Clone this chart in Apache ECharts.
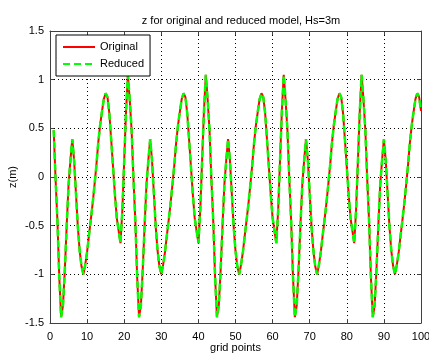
<!DOCTYPE html>
<html>
<head>
<meta charset="utf-8">
<script src="https://cdn.jsdelivr.net/npm/echarts@6/dist/echarts.min.js"></script>
<style>
html,body{margin:0;padding:0;background:#fff;}
#c{width:429px;height:353px;}
</style>
</head>
<body>
<div id="c"></div>
<script>
// grid point positions: first point and spacing of the samples
const gridStart = 1;
const gridStep = 0.5;

// z(m) for the original model
const original = [
0.48,-0.02,-0.45,-1.03,-1.44,-1.32,-0.95,-0.5,-0.08,0.17,0.39,0.17,-0.17,-0.51,-0.76,-0.92,-1.0,-0.9,-0.77,-0.6,-0.44,-0.27,-0.08,0.12,0.35,0.53,0.67,0.8,0.86,0.82,0.65,0.38,0.1,-0.18,-0.42,-0.55,-0.68,-0.34,0.17,0.68,1.05,0.79,
0.48,-0.02,-0.45,-1.03,-1.44,-1.32,-0.95,-0.5,-0.08,0.17,0.39,0.17,-0.17,-0.51,-0.76,-0.92,-1.0,-0.9,-0.77,-0.6,-0.44,-0.27,-0.08,0.12,0.35,0.53,0.67,0.8,0.86,0.82,0.65,0.38,0.1,-0.18,-0.42,-0.55,-0.68,-0.34,0.17,0.68,1.05,0.79,
0.48,-0.02,-0.45,-1.03,-1.44,-1.32,-0.95,-0.5,-0.08,0.17,0.39,0.17,-0.17,-0.51,-0.76,-0.92,-1.0,-0.9,-0.77,-0.6,-0.44,-0.27,-0.08,0.12,0.35,0.53,0.67,0.8,0.86,0.82,0.65,0.38,0.1,-0.18,-0.42,-0.55,-0.68,-0.34,0.17,0.68,1.05,0.79,
0.48,-0.02,-0.45,-1.03,-1.44,-1.32,-0.95,-0.5,-0.08,0.17,0.39,0.17,-0.17,-0.51,-0.76,-0.92,-1.0,-0.9,-0.77,-0.6,-0.44,-0.27,-0.08,0.12,0.35,0.53,0.67,0.8,0.86,0.82,0.65,0.38,0.1,-0.18,-0.42,-0.55,-0.68,-0.34,0.17,0.68,1.05,0.79,
0.48,-0.02,-0.45,-1.03,-1.44,-1.32,-0.95,-0.5,-0.08,0.17,0.39,0.17,-0.17,-0.51,-0.76,-0.92,-1.0,-0.9,-0.77,-0.6,-0.44,-0.27,-0.08,0.12,0.35,0.53,0.67,0.8,0.86,0.82,0.68
];

// z(m) for the reduced model (overlaps the original)
const reduced = [
0.48,-0.02,-0.45,-1.03,-1.44,-1.32,-0.95,-0.5,-0.08,0.17,0.39,0.17,-0.17,-0.51,-0.76,-0.92,-1.0,-0.9,-0.77,-0.6,-0.44,-0.27,-0.08,0.12,0.35,0.53,0.67,0.8,0.86,0.82,0.65,0.38,0.1,-0.18,-0.42,-0.55,-0.68,-0.34,0.17,0.68,1.05,0.79,
0.48,-0.02,-0.45,-1.03,-1.44,-1.32,-0.95,-0.5,-0.08,0.17,0.39,0.17,-0.17,-0.51,-0.76,-0.92,-1.0,-0.9,-0.77,-0.6,-0.44,-0.27,-0.08,0.12,0.35,0.53,0.67,0.8,0.86,0.82,0.65,0.38,0.1,-0.18,-0.42,-0.55,-0.68,-0.34,0.17,0.68,1.05,0.79,
0.48,-0.02,-0.45,-1.03,-1.44,-1.32,-0.95,-0.5,-0.08,0.17,0.39,0.17,-0.17,-0.51,-0.76,-0.92,-1.0,-0.9,-0.77,-0.6,-0.44,-0.27,-0.08,0.12,0.35,0.53,0.67,0.8,0.86,0.82,0.65,0.38,0.1,-0.18,-0.42,-0.55,-0.68,-0.34,0.17,0.68,1.05,0.79,
0.48,-0.02,-0.45,-1.03,-1.44,-1.32,-0.95,-0.5,-0.08,0.17,0.39,0.17,-0.17,-0.51,-0.76,-0.92,-1.0,-0.9,-0.77,-0.6,-0.44,-0.27,-0.08,0.12,0.35,0.53,0.67,0.8,0.86,0.82,0.65,0.38,0.1,-0.18,-0.42,-0.55,-0.68,-0.34,0.17,0.68,1.05,0.79,
0.48,-0.02,-0.45,-1.03,-1.44,-1.32,-0.95,-0.5,-0.08,0.17,0.39,0.17,-0.17,-0.51,-0.76,-0.92,-1.0,-0.9,-0.77,-0.6,-0.44,-0.27,-0.08,0.12,0.35,0.53,0.67,0.8,0.86,0.82,0.68
];

// tick labels
const xTicks = [0,10,20,30,40,50,60,70,80,90,100];
const yTicks = [-1.5,-1,-0.5,0,0.5,1,1.5];

const seriesNames = ['Original','Reduced'];
const titleText = 'z for original and reduced model, Hs=3m';
const xName = 'grid points';
const yName = 'z(m)';

function pairs(vals){ return vals.map((v,i)=>[gridStart + i*gridStep, v]); }

const FONT = '"Liberation Sans", Arial, sans-serif';
const axisCol = '#404040';

const chart = echarts.init(document.getElementById('c'), null, {renderer:'canvas'});
const xMin = xTicks[0], xMax = xTicks[xTicks.length-1], xInt = xTicks[1]-xTicks[0];
const yMin = yTicks[0], yMax = yTicks[yTicks.length-1], yInt = yTicks[1]-yTicks[0];

const baseAxis = {
  axisLine:{show:true, onZero:false, lineStyle:{color:axisCol, width:1}},
  axisTick:{show:true, inside:true, length:4, lineStyle:{color:axisCol}},
};

chart.setOption({
  animation:false,
  backgroundColor:'#fff',
  title:{
    text:titleText, left:236, top:10, textAlign:'center',
    textStyle:{fontFamily:FONT, fontSize:11, fontWeight:'normal', color:'#000'}
  },
  legend:{
    data:seriesNames, orient:'vertical', left:56, top:35,
    itemWidth:32, itemHeight:14, itemGap:3,
    padding:[5,6,5,6],
    borderColor:'#000', borderWidth:1, backgroundColor:'#fff',
    textStyle:{fontFamily:FONT, fontSize:11, color:'#000', lineHeight:14, padding:[0,0,0,0]},
    itemStyle:{opacity:0}
  },
  grid:{left:50, right:8, top:31, bottom:30, containLabel:false, outerBoundsMode:'none'},
  xAxis:[
    Object.assign({
      type:'value', min:xMin, max:xMax, interval:xInt, position:'bottom',
      name:xName, nameLocation:'middle', nameGap:19, nameMoveOverlap:false,
      nameTextStyle:{fontFamily:FONT, fontSize:11, color:'#000'},
      axisLabel:{fontFamily:FONT, fontSize:11, color:'#000', margin:8},
      splitLine:{show:true, lineStyle:{color:'#000', type:[1,3], width:1}}
    }, baseAxis),
    Object.assign({
      type:'value', min:xMin, max:xMax, interval:xInt, position:'top',
      axisLabel:{show:false}, splitLine:{show:false}
    }, baseAxis)
  ],
  yAxis:[
    Object.assign({
      type:'value', min:yMin, max:yMax, interval:yInt, position:'left',
      name:yName, nameLocation:'middle', nameGap:32, nameRotate:90, nameMoveOverlap:false,
      nameTextStyle:{fontFamily:FONT, fontSize:11, color:'#000'},
      axisLabel:{fontFamily:FONT, fontSize:11, color:'#000', margin:6},
      splitLine:{show:true, lineStyle:{color:'#000', type:[1,3], width:1}}
    }, baseAxis),
    Object.assign({
      type:'value', min:yMin, max:yMax, interval:yInt, position:'right',
      axisLabel:{show:false}, splitLine:{show:false}
    }, baseAxis)
  ],
  series:[
    {
      name:seriesNames[0], type:'line', data:pairs(original),
      symbol:'none', smooth:false, clip:true,
      lineStyle:{color:'#ff0000', width:2},
      itemStyle:{color:'#ff0000'}
    },
    {
      name:seriesNames[1], type:'line', data:pairs(reduced),
      symbol:'none', smooth:false, clip:true,
      lineStyle:{color:'#00ff00', width:2.5, type:[7,4]},
      itemStyle:{color:'#00ff00'}
    }
  ]
});
</script>
</body>
</html>
